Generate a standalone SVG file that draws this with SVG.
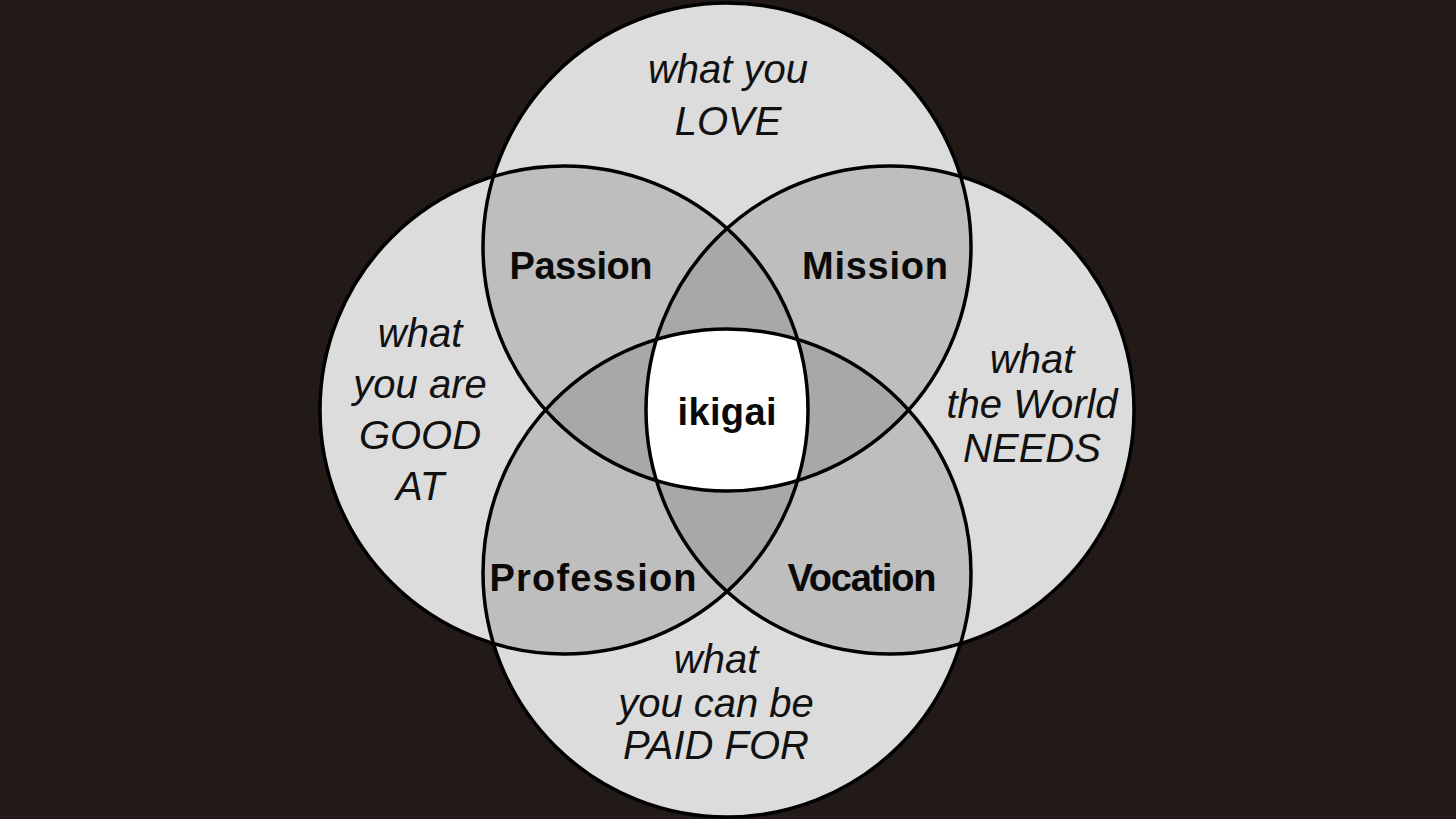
<svg xmlns="http://www.w3.org/2000/svg" xmlns:xlink="http://www.w3.org/1999/xlink" width="1456" height="819" viewBox="0 0 1456 819">
<style>
.bg{fill:#221a17}
.one{fill:#dcdcdc}
.two{fill:#bebebe}
.three{fill:#a8a8a8}
.four{fill:#ffffff}
.ring{fill:none;stroke:#000;stroke-width:3.5}
.lbl{font-family:"Liberation Sans",Arial,sans-serif;font-style:italic;font-size:40px;fill:#111;text-anchor:middle}
.bold{font-family:"Liberation Sans",Arial,sans-serif;font-weight:bold;font-size:38px;fill:#0a0a0a;text-anchor:middle}
</style>
<defs>
<circle id="cT" cx="727" cy="247" r="244"/>
<circle id="cL" cx="564" cy="410" r="244"/>
<circle id="cR" cx="890" cy="410" r="244"/>
<circle id="cB" cx="727" cy="573" r="244"/>
<clipPath id="kT"><circle cx="727" cy="247" r="244"/></clipPath>
<clipPath id="kL"><circle cx="564" cy="410" r="244"/></clipPath>
<clipPath id="kR"><circle cx="890" cy="410" r="244"/></clipPath>
<clipPath id="kB"><circle cx="727" cy="573" r="244"/></clipPath>
</defs>
<rect class="bg" x="0" y="0" width="1456" height="819"/>

<g id="circle-love"><use href="#cT" class="one"/></g>
<g id="circle-good-at"><use href="#cL" class="one"/></g>
<g id="circle-world-needs"><use href="#cR" class="one"/></g>
<g id="circle-paid-for"><use href="#cB" class="one"/></g>

<g id="overlaps">
<g clip-path="url(#kT)"><use href="#cL" class="two"/></g>
<g clip-path="url(#kT)"><use href="#cR" class="two"/></g>
<g clip-path="url(#kB)"><use href="#cL" class="two"/></g>
<g clip-path="url(#kB)"><use href="#cR" class="two"/></g>
<g clip-path="url(#kT)"><use href="#cB" class="two"/></g>
<g clip-path="url(#kL)"><use href="#cR" class="two"/></g>
<g clip-path="url(#kT)"><g clip-path="url(#kL)"><use href="#cR" class="three"/></g></g>
<g clip-path="url(#kT)"><g clip-path="url(#kL)"><use href="#cB" class="three"/></g></g>
<g clip-path="url(#kT)"><g clip-path="url(#kR)"><use href="#cB" class="three"/></g></g>
<g clip-path="url(#kL)"><g clip-path="url(#kR)"><use href="#cB" class="three"/></g></g>
<g clip-path="url(#kT)"><g clip-path="url(#kL)"><g clip-path="url(#kR)"><use href="#cB" class="four"/></g></g></g>
</g>

<g id="outlines">
<use href="#cT" class="ring"/>
<use href="#cL" class="ring"/>
<use href="#cR" class="ring"/>
<use href="#cB" class="ring"/>
</g>

<g id="label-love">
<text class="lbl" x="728" y="83">what you</text>
<text class="lbl" x="728" y="135">LOVE</text>
</g>
<g id="label-good-at">
<text class="lbl" x="420" y="347">what</text>
<text class="lbl" x="420" y="398">you are</text>
<text class="lbl" x="420" y="449">GOOD</text>
<text class="lbl" x="420" y="500">AT</text>
</g>
<g id="label-world-needs">
<text class="lbl" x="1032" y="373">what</text>
<text class="lbl" x="1032" y="418">the World</text>
<text class="lbl" x="1032" y="462">NEEDS</text>
</g>
<g id="label-paid-for">
<text class="lbl" x="716" y="673">what</text>
<text class="lbl" x="716" y="717">you can be</text>
<text class="lbl" x="716" y="759">PAID FOR</text>
</g>

<g id="passion"><text class="bold" x="581" y="279" textLength="143">Passion</text></g>
<g id="mission"><text class="bold" x="875" y="279" textLength="146">Mission</text></g>
<g id="profession"><text class="bold" x="593" y="591" textLength="207">Profession</text></g>
<g id="vocation"><text class="bold" x="862" y="591" textLength="149">Vocation</text></g>
<g id="ikigai"><text class="bold" x="727" y="425" textLength="99">ikigai</text></g>
</svg>
